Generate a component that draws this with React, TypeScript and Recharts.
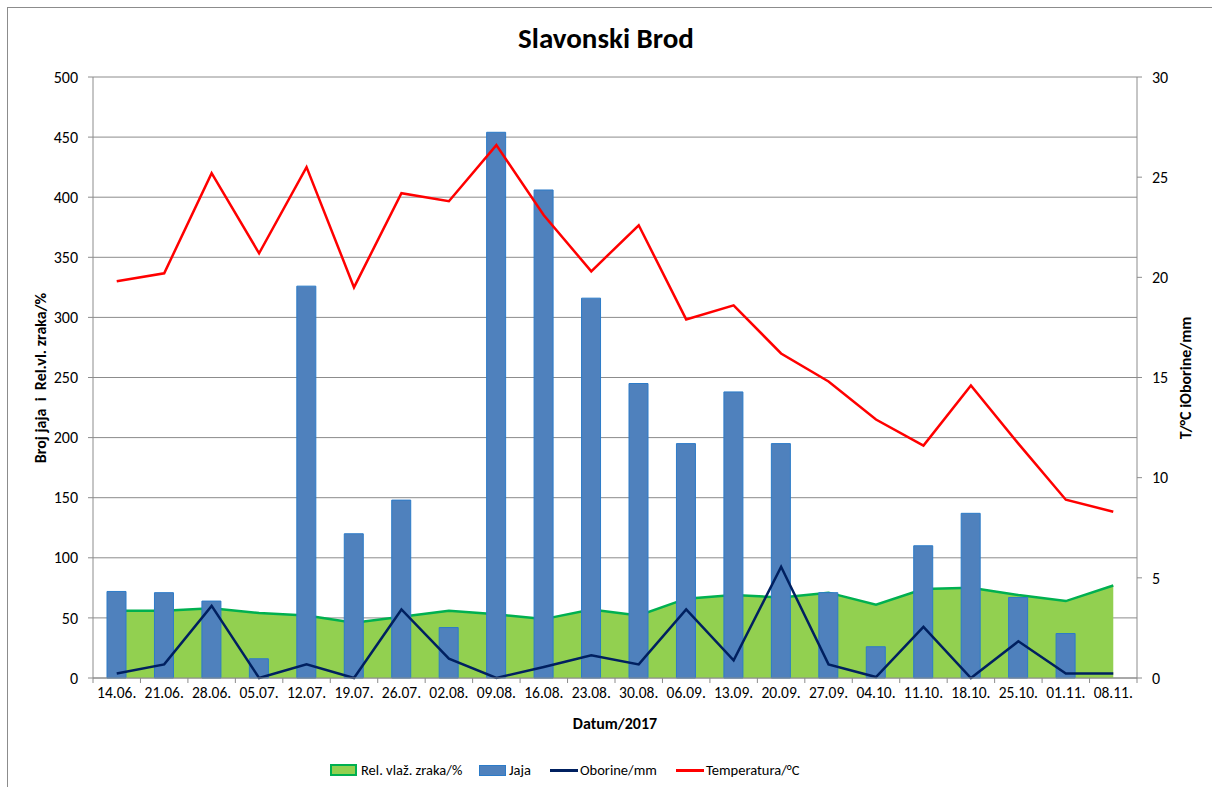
import {
  ComposedChart,
  Area,
  Bar,
  Line,
  XAxis,
  YAxis,
  CartesianGrid,
} from "recharts";

const dates = [
  "14.06.", "21.06.", "28.06.", "05.07.", "12.07.", "19.07.", "26.07.", "02.08.",
  "09.08.", "16.08.", "23.08.", "30.08.", "06.09.", "13.09.", "20.09.", "27.09.",
  "04.10.", "11.10.", "18.10.", "25.10.", "01.11.", "08.11.",
];

// Rel. vlaž. zraka/%
const humidity = [56, 56, 58, 54, 52, 46, 51, 56, 53, 49, 57, 52, 66, 69, 67, 71, 61, 74, 75, 69, 64, 77];
// Jaja (broj)
const eggs = [72, 71, 64, 16, 326, 120, 148, 42, 454, 406, 316, 245, 195, 238, 195, 71, 26, 110, 137, 67, 37, null];
// Oborine/mm
const rain = [0.22, 0.68, 3.6, 0, 0.68, 0, 3.42, 0.97, 0, 0.55, 1.13, 0.68, 3.42, 0.88, 5.55, 0.68, 0.05, 2.55, 0, 1.83, 0.22, 0.22];
// Temperatura/°C
const temp = [19.8, 20.2, 25.2, 21.2, 25.5, 19.5, 24.2, 23.8, 26.6, 23.1, 20.3, 22.6, 17.9, 18.6, 16.2, 14.8, 12.9, 11.6, 14.6, 11.7, 8.9, 8.3];

const leftTicks = [0, 50, 100, 150, 200, 250, 300, 350, 400, 450, 500];
const rightTicks = [0, 5, 10, 15, 20, 25, 30];

const data = dates.map((d, i) => ({
  date: d,
  humidity: humidity[i],
  eggs: eggs[i],
  rain: rain[i],
  temp: temp[i],
}));

const FONT = "Carlito, Calibri, Lato, 'Open Sans', sans-serif";
const AXIS = "#8c8c8c";

const W = 1212;
const H = 787;
const PLOT_LEFT = 93;
const PLOT_RIGHT = 1137;
const PLOT_TOP = 77;
const PLOT_BOTTOM = 678;
const BAND = (PLOT_RIGHT - PLOT_LEFT) / dates.length;

const DateTick = (props: any) => {
  const { x, y, payload, index } = props;
  const axisY = PLOT_BOTTOM;
  return (
    <g>
      <line x1={x - BAND / 2} x2={x - BAND / 2} y1={axisY} y2={axisY + 5} stroke={AXIS} />
      {index === dates.length - 1 && (
        <line x1={x + BAND / 2} x2={x + BAND / 2} y1={axisY} y2={axisY + 5} stroke={AXIS} />
      )}
      <text x={x} y={y + 12} textAnchor="middle" fontSize={15.5} fill="#000" fontFamily={FONT}>
        {payload.value}
      </text>
    </g>
  );
};

const legendItems = [
  { label: "Rel. vlaž. zraka/%", kind: "area", left: 330 },
  { label: "Jaja", kind: "bar", left: 479 },
  { label: "Oborine/mm", kind: "line", color: "#002060", left: 550 },
  { label: "Temperatura/°C", kind: "line", color: "#FF0000", left: 676 },
];

const ChartLegend = () => (
  <div style={{ position: "absolute", left: 0, top: 760, width: W, height: 20, fontFamily: FONT, fontSize: 14.5, color: "#000" }}>
    {legendItems.map((it) => (
      <div key={it.label} style={{ position: "absolute", left: it.left, top: 0, height: 20, display: "flex", alignItems: "center", whiteSpace: "nowrap" }}>
        {it.kind === "area" && (
          <div style={{ width: 23, height: 8, background: "#92D050", border: "2px solid #00B050", marginRight: 4 }} />
        )}
        {it.kind === "bar" && (
          <div style={{ width: 25, height: 9, background: "#4F81BD", border: "1px solid #2C7BC8", marginRight: 3 }} />
        )}
        {it.kind === "line" && (
          <div style={{ width: 28, height: 3, background: it.color, marginRight: 2 }} />
        )}
        <span>{it.label}</span>
      </div>
    ))}
  </div>
);

export default function App() {
  return (
    <div style={{ position: "absolute", left: 0, top: 0, width: W, height: H, background: "#fff", fontFamily: FONT, overflow: "hidden" }}>
      <div style={{ position: "absolute", left: 7, top: 7, width: W, height: H, borderLeft: `1px solid ${AXIS}`, borderTop: `1px solid ${AXIS}`, boxSizing: "border-box" }} />
      <div style={{ position: "absolute", left: 0, width: W, top: 20, textAlign: "center", fontSize: 29, fontWeight: "bold", color: "#000" }}>
        Slavonski Brod
      </div>
      <div style={{ position: "absolute", left: 40, top: (PLOT_TOP + PLOT_BOTTOM) / 2, transform: "translate(-50%, -50%) rotate(-90deg)", whiteSpace: "pre", fontSize: 16, fontWeight: "bold" }}>
        {"Broj jaja  i  Rel.vl. zraka/%"}
      </div>
      <div style={{ position: "absolute", left: 1185, top: (PLOT_TOP + PLOT_BOTTOM) / 2, transform: "translate(-50%, -50%) rotate(-90deg)", whiteSpace: "pre", fontSize: 16, fontWeight: "bold" }}>
        T/°C iOborine/mm
      </div>
      <div style={{ position: "absolute", left: PLOT_LEFT, width: PLOT_RIGHT - PLOT_LEFT, top: 714, textAlign: "center", fontSize: 16, fontWeight: "bold" }}>
        Datum/2017
      </div>
      <ComposedChart
        width={W}
        height={H}
        data={data}
        margin={{ top: PLOT_TOP, left: PLOT_LEFT - 60, right: W - PLOT_RIGHT - 60, bottom: H - PLOT_BOTTOM - 30 }}
        style={{ position: "absolute", left: 0, top: 0 }}
      >
        <CartesianGrid yAxisId="left" vertical={false} stroke={AXIS} strokeWidth={1} />
        <XAxis
          dataKey="date"
          height={30}
          tickLine={false}
          axisLine={{ stroke: AXIS }}
          interval={0}
          tick={<DateTick />}
        />
        <YAxis
          yAxisId="left"
          width={60}
          domain={[0, 500]}
          ticks={leftTicks}
          interval={0}
          tickSize={5}
          tickMargin={10}
          axisLine={{ stroke: AXIS }}
          tickLine={{ stroke: AXIS }}
          tick={{ fontSize: 16, fill: "#000", fontFamily: FONT }}
        />
        <YAxis
          yAxisId="right"
          orientation="right"
          width={60}
          domain={[0, 30]}
          ticks={rightTicks}
          interval={0}
          tickSize={5}
          tickMargin={10}
          axisLine={{ stroke: AXIS }}
          tickLine={{ stroke: AXIS }}
          tick={{ fontSize: 16, fill: "#000", fontFamily: FONT }}
        />
        <Area
          yAxisId="left"
          type="linear"
          dataKey="humidity"
          name="Rel. vlaž. zraka/%"
          fill="#92D050"
          fillOpacity={1}
          stroke="#00B050"
          strokeWidth={2.5}
          isAnimationActive={false}
        />
        <Bar
          yAxisId="left"
          dataKey="eggs"
          name="Jaja"
          barSize={19}
          fill="#4F81BD"
          stroke="#2C7BC8"
          strokeWidth={1}
          isAnimationActive={false}
        />
        <Line
          yAxisId="right"
          type="linear"
          dataKey="rain"
          name="Oborine/mm"
          stroke="#002060"
          strokeWidth={2.5}
          dot={false}
          activeDot={false}
          isAnimationActive={false}
        />
        <Line
          yAxisId="right"
          type="linear"
          dataKey="temp"
          name="Temperatura/°C"
          stroke="#FF0000"
          strokeWidth={2.5}
          dot={false}
          activeDot={false}
          isAnimationActive={false}
        />
      </ComposedChart>
      <ChartLegend />
    </div>
  );
}
